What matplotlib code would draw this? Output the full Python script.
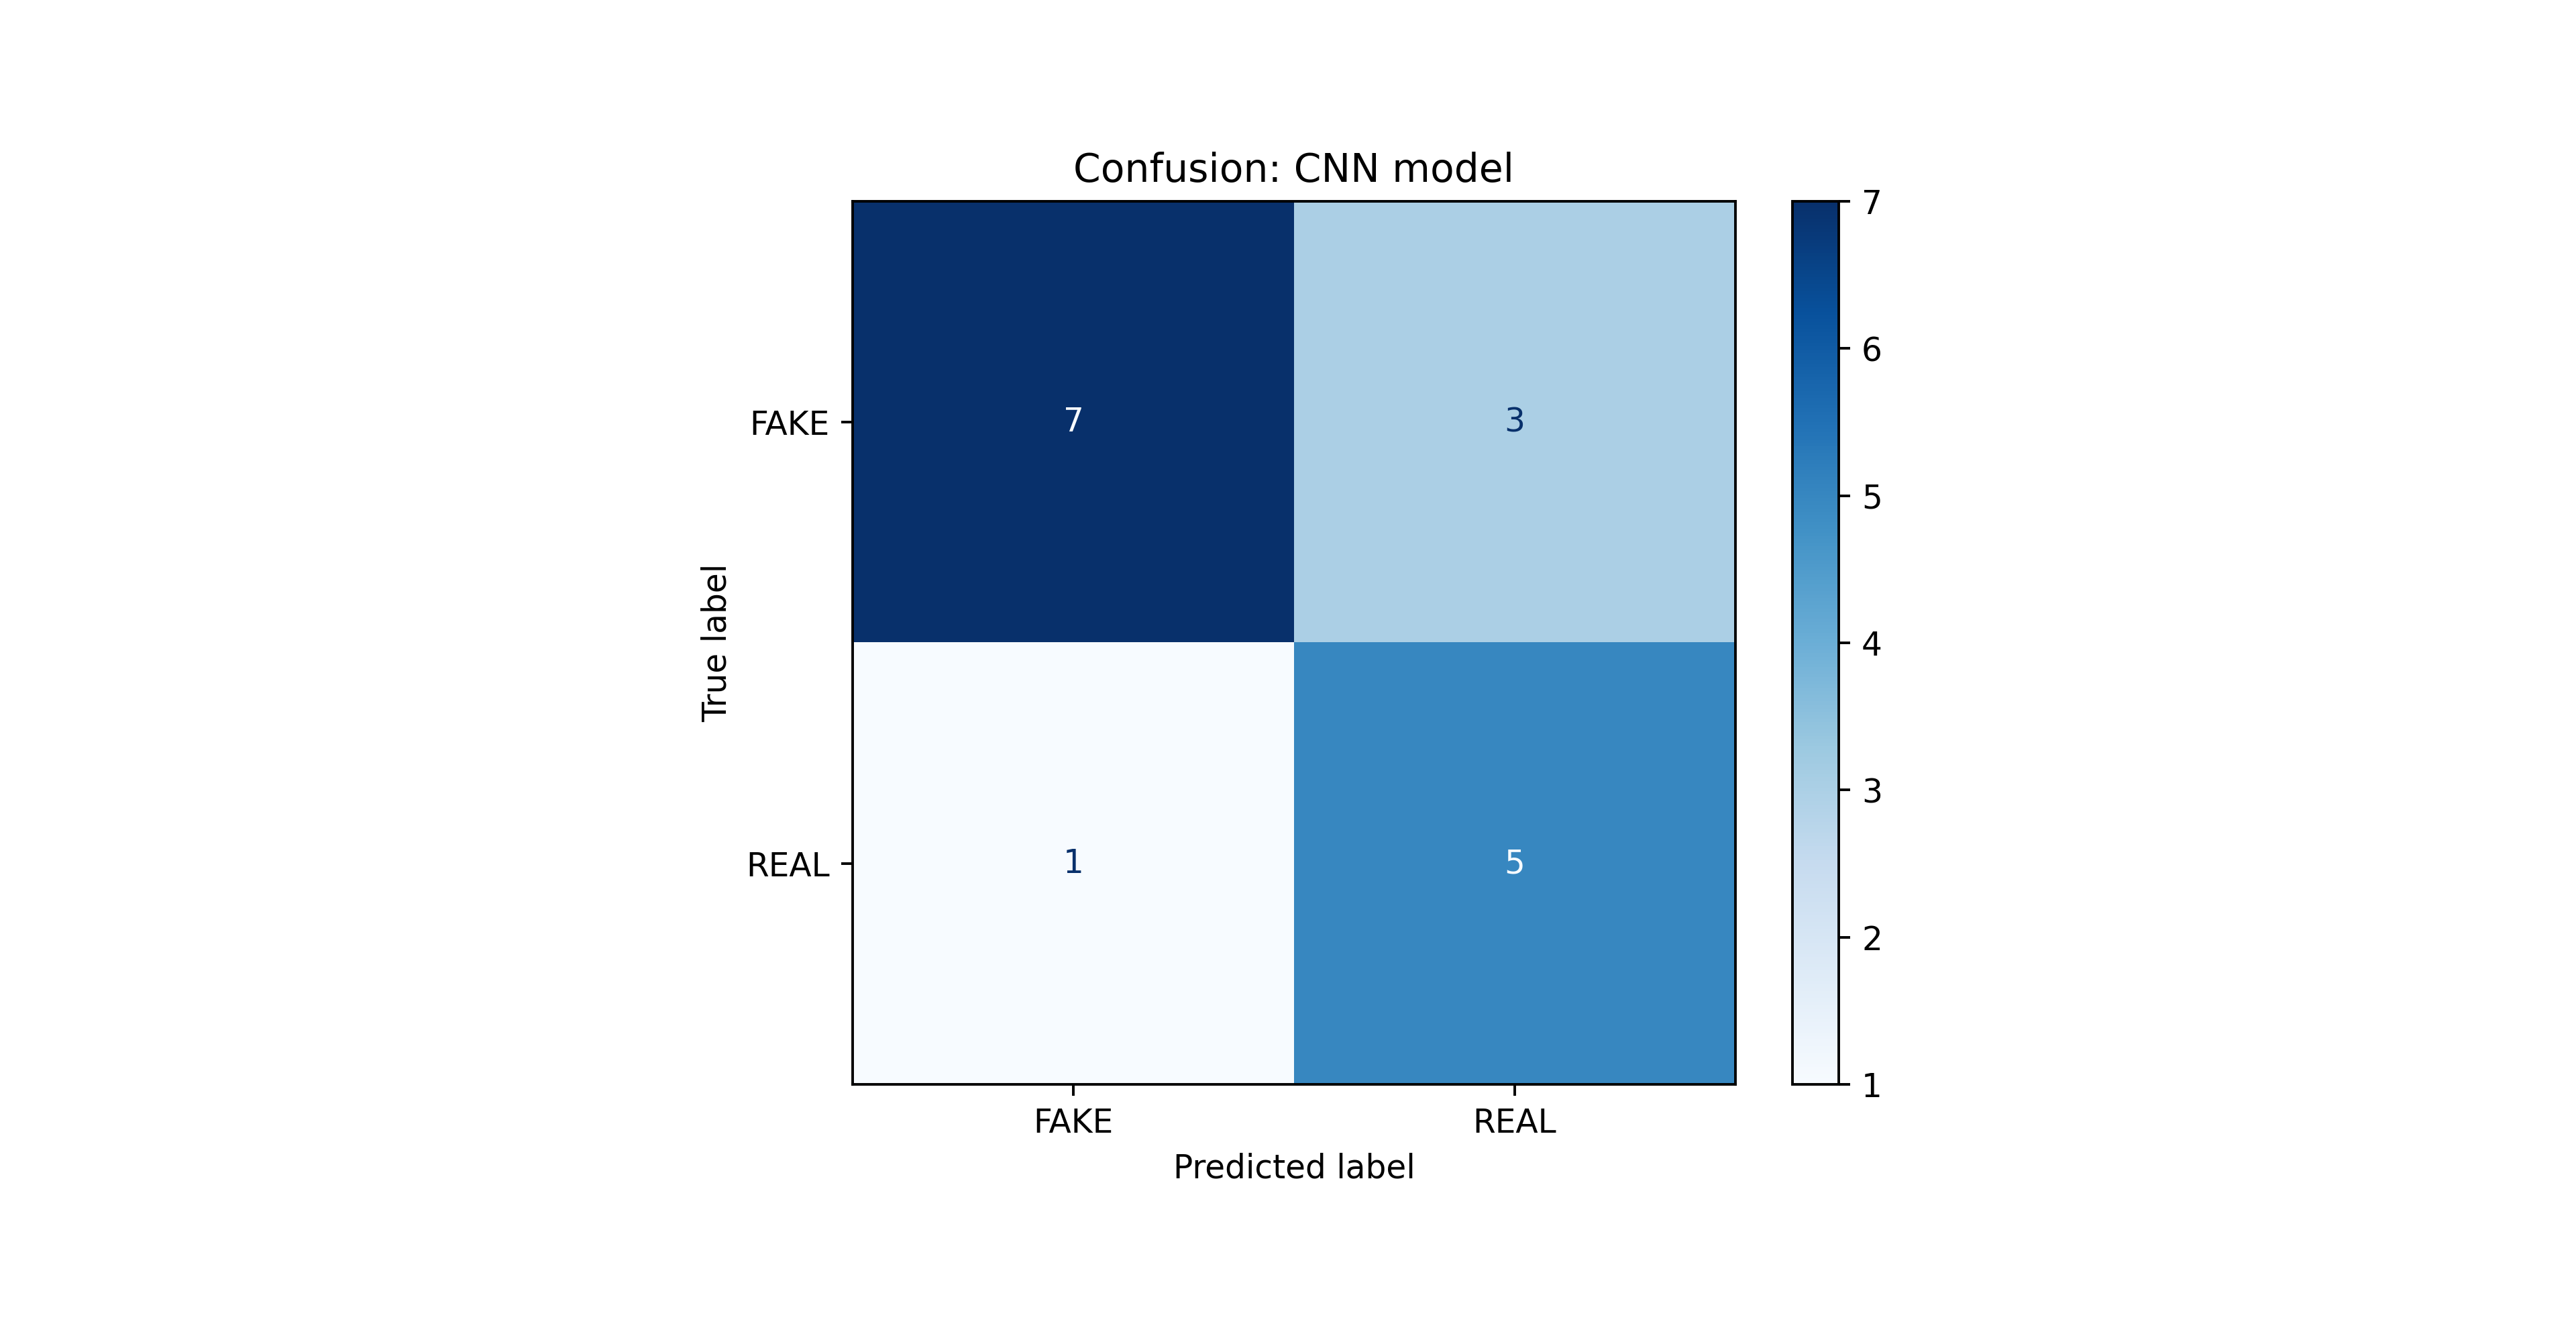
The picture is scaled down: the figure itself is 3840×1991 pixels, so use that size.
import numpy as np
import matplotlib
matplotlib.use("Agg")
import matplotlib.pyplot as plt

# Data
labels = ["FAKE", "REAL"]
row_fake = [7, 3]
row_real = [1, 5]
title = "Confusion: CNN model"

cm = np.array([row_fake, row_real])

DPI = 350
W, H = 3840, 1991
fig = plt.figure(figsize=(W / DPI, H / DPI), dpi=DPI)

ax = fig.add_axes([1271 / W, (H - 1616) / H, 1316 / W, 1316 / H])
cax = fig.add_axes([2672 / W, (H - 1616) / H, 69 / W, 1316 / H])

cmap = plt.get_cmap("Blues")
im = ax.imshow(cm, interpolation="nearest", cmap=cmap)
cmap_min, cmap_max = im.cmap(0), im.cmap(1.0)
thresh = (cm.max() + cm.min()) / 2.0
for i in range(cm.shape[0]):
    for j in range(cm.shape[1]):
        color = cmap_max if cm[i, j] < thresh else cmap_min
        ax.text(j, i, format(cm[i, j], "d"), ha="center", va="center", color=color)

fig.colorbar(im, cax=cax)
ax.set_xticks(np.arange(len(labels)))
ax.set_xticklabels(labels)
ax.set_yticks(np.arange(len(labels)))
ax.set_yticklabels(labels)
ax.set_xlabel("Predicted label")
ax.set_ylabel("True label")
ax.set_title(title)
ax.set_ylim(len(labels) - 0.5, -0.5)

fig.savefig("out.png", dpi=DPI)
